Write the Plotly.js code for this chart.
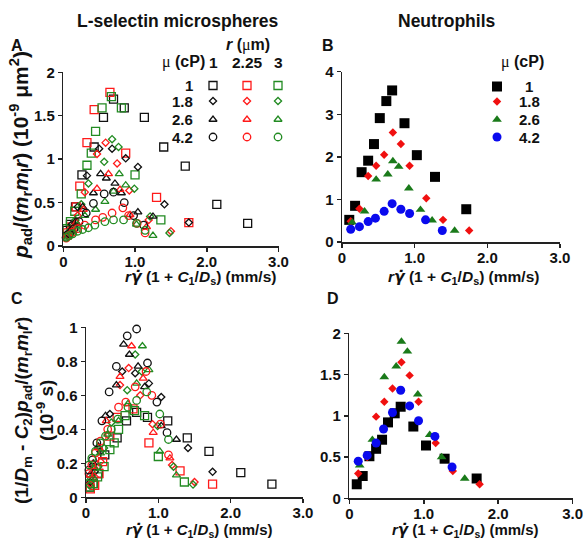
<!DOCTYPE html>
<html><head><meta charset="utf-8">
<script src="https://cdn.plot.ly/plotly-3.0.1.min.js"></script>
<style>html,body{margin:0;padding:0;background:#fff}#chart{width:583px;height:539px}</style>
</head><body><div id="chart"></div>
<script>
// ---------- tick labels ----------
const xTickVals = [0, 1, 2, 3];
const xTickText = ['0', '1.0', '2.0', '3.0'];
const yTickValsA = [0, 0.5, 1, 1.5, 2];
const yTickTextA = ['0', '0.5', '1', '1.5', '2'];
const yTickValsB = [0, 1, 2, 3, 4];
const yTickTextB = ['0', '1', '2', '3', '4'];
const yTickValsC = [0, 0.2, 0.4, 0.6, 0.8, 1];
const yTickTextC = ['0', '0.2', '0.4', '0.6', '0.8', '1'];
const yTickValsD = [0, 0.5, 1, 1.5, 2];
const yTickTextD = ['0', '0.5', '1', '1.5', '2'];

// ---------- categories ----------
const viscosities = ['1', '1.8', '2.6', '4.2'];   // mu (cP)
const radii = ['1', '2.25', '3'];                 // r (um)

// ---------- L-selectin microspheres (panel A: pA, panel C: pC) ----------
const x_mu1_r1 = [0.05, 0.10, 0.17, 0.26, 0.43, 0.56, 0.70, 0.85, 1.13, 1.40, 1.70, 2.14, 2.57];
const pA_mu1_r1 = [0.18, 0.25, 0.45, 0.82, 1.14, 1.48, 1.69, 1.59, 1.48, 1.14, 0.92, 0.48, 0.26];
const pC_mu1_r1 = [0.06, 0.08, 0.14, 0.25, 0.35, 0.45, 0.50, 0.47, 0.45, 0.35, 0.27, 0.145, 0.077];

const x_mu1_r225 = [0.06, 0.12, 0.18, 0.23, 0.33, 0.43, 0.65, 0.87, 1.30, 1.75];
const pA_mu1_r225 = [0.15, 0.22, 0.45, 0.69, 1.19, 1.57, 1.77, 1.07, 0.56, 0.27];
const pC_mu1_r225 = [0.05, 0.07, 0.14, 0.21, 0.36, 0.47, 0.52, 0.32, 0.155, 0.078];

const x_mu1_r3 = [0.05, 0.10, 0.16, 0.25, 0.33, 0.39, 0.45, 0.54, 0.67, 0.81, 1.00, 1.36];
const pA_mu1_r3 = [0.20, 0.28, 0.40, 0.60, 0.93, 1.07, 1.32, 1.59, 1.72, 1.59, 0.82, 0.30];
const pC_mu1_r3 = [0.06, 0.08, 0.12, 0.18, 0.28, 0.32, 0.40, 0.48, 0.51, 0.48, 0.24, 0.09];

const x_mu18_r1 = [0.06, 0.12, 0.20, 0.33, 0.50, 0.68, 0.87, 1.04, 1.41, 1.75];
const pA_mu18_r1 = [0.15, 0.25, 0.45, 0.81, 1.12, 1.12, 1.01, 0.91, 0.48, 0.27];
const pC_mu18_r1 = [0.09, 0.15, 0.27, 0.49, 0.74, 0.73, 0.67, 0.59, 0.29, 0.15];

const x_mu18_r225 = [0.06, 0.12, 0.20, 0.30, 0.47, 0.59, 0.75, 0.92, 1.19, 1.50];
const pA_mu18_r225 = [0.13, 0.20, 0.35, 0.62, 1.06, 1.19, 0.95, 0.64, 0.30, 0.17];
const pC_mu18_r225 = [0.08, 0.12, 0.21, 0.37, 0.66, 0.76, 0.60, 0.43, 0.19, 0.09];

const x_mu18_r3 = [0.05, 0.10, 0.17, 0.25, 0.35, 0.57, 0.68, 0.77, 0.99, 1.21, 1.48];
const pA_mu18_r3 = [0.12, 0.18, 0.30, 0.48, 0.72, 0.97, 1.23, 1.14, 0.66, 0.34, 0.15];
const pC_mu18_r3 = [0.07, 0.11, 0.18, 0.29, 0.44, 0.63, 0.84, 0.74, 0.42, 0.18, 0.075];

const x_mu26_r1 = [0.05, 0.10, 0.17, 0.27, 0.42, 0.52, 0.60, 0.72, 0.81, 1.04, 1.25];
const pA_mu26_r1 = [0.12, 0.18, 0.28, 0.45, 0.61, 0.83, 0.78, 0.72, 0.61, 0.39, 0.34];
const pC_mu26_r1 = [0.13, 0.20, 0.30, 0.48, 0.66, 0.90, 0.84, 0.77, 0.65, 0.42, 0.34];

const x_mu26_r225 = [0.05, 0.11, 0.18, 0.28, 0.47, 0.63, 0.79, 0.93, 1.16];
const pA_mu26_r225 = [0.12, 0.17, 0.27, 0.42, 0.66, 0.83, 0.65, 0.36, 0.22];
const pC_mu26_r225 = [0.13, 0.18, 0.29, 0.45, 0.71, 0.89, 0.70, 0.38, 0.23];

const x_mu26_r3 = [0.06, 0.12, 0.20, 0.30, 0.45, 0.58, 0.70, 0.78, 0.87, 1.02, 1.25];
const pA_mu26_r3 = [0.10, 0.16, 0.24, 0.35, 0.42, 0.51, 0.63, 0.83, 0.70, 0.25, 0.12];
const pC_mu26_r3 = [0.11, 0.17, 0.26, 0.37, 0.45, 0.55, 0.67, 0.89, 0.75, 0.27, 0.13];

const x_mu42_r1 = [0.04, 0.09, 0.15, 0.22, 0.32, 0.42, 0.57, 0.70, 0.85, 0.98, 1.12];
const pA_mu42_r1 = [0.10, 0.14, 0.20, 0.28, 0.38, 0.49, 0.60, 0.62, 0.50, 0.35, 0.24];
const pC_mu42_r1 = [0.16, 0.22, 0.32, 0.45, 0.62, 0.77, 0.95, 0.99, 0.79, 0.56, 0.38];

const x_mu42_r225 = [0.04, 0.08, 0.13, 0.20, 0.30, 0.45, 0.55, 0.68, 0.83, 0.91, 1.03, 1.14];
const pA_mu42_r225 = [0.09, 0.12, 0.16, 0.20, 0.24, 0.30, 0.33, 0.38, 0.44, 0.35, 0.26, 0.15];
const pC_mu42_r225 = [0.14, 0.19, 0.26, 0.33, 0.40, 0.53, 0.56, 0.65, 0.74, 0.60, 0.43, 0.25];

const x_mu42_r3 = [0.04, 0.08, 0.13, 0.20, 0.27, 0.35, 0.44, 0.58, 0.70, 0.84, 1.02, 1.14];
const pA_mu42_r3 = [0.10, 0.12, 0.14, 0.17, 0.19, 0.21, 0.24, 0.28, 0.30, 0.30, 0.26, 0.18];
const pC_mu42_r3 = [0.19, 0.23, 0.27, 0.32, 0.36, 0.40, 0.46, 0.53, 0.57, 0.62, 0.49, 0.34];

// ---------- Neutrophils (panel B: pB, panel D: pD) ----------
const xN_mu1 = [0.10, 0.18, 0.27, 0.36, 0.44, 0.52, 0.61, 0.69, 0.86, 1.03, 1.28, 1.71];
const pB_mu1 = [0.52, 0.85, 1.64, 1.91, 2.30, 2.91, 3.31, 3.56, 2.79, 2.04, 1.53, 0.77];
const pD_mu1 = [0.17, 0.27, 0.51, 0.60, 0.71, 0.92, 1.03, 1.11, 0.87, 0.64, 0.48, 0.24];

const xN_mu18 = [0.12, 0.24, 0.36, 0.47, 0.58, 0.70, 0.81, 0.93, 1.16, 1.39, 1.75];
const pB_mu18 = [0.49, 0.78, 1.55, 1.79, 2.05, 2.57, 2.30, 1.79, 1.03, 0.52, 0.27];
const pD_mu18 = [0.30, 0.50, 0.99, 1.17, 1.33, 1.65, 1.49, 1.17, 0.67, 0.33, 0.17];

const xN_mu26 = [0.14, 0.31, 0.47, 0.63, 0.70, 0.78, 0.92, 1.08, 1.24, 1.55];
const pB_mu26 = [0.46, 0.72, 1.47, 1.59, 1.90, 1.77, 1.26, 0.76, 0.51, 0.27];
const pD_mu26 = [0.40, 0.71, 1.47, 1.60, 1.90, 1.78, 1.26, 0.77, 0.50, 0.24];

const xN_mu42 = [0.12, 0.24, 0.36, 0.46, 0.58, 0.69, 0.81, 0.93, 1.15, 1.38];
const pB_mu42 = [0.30, 0.36, 0.48, 0.56, 0.72, 0.90, 0.77, 0.67, 0.52, 0.27];
const pD_mu42 = [0.45, 0.52, 0.67, 0.84, 1.04, 1.31, 1.12, 0.94, 0.75, 0.38];

// ---------- assemble ----------
const msData = [
  [[x_mu1_r1, pA_mu1_r1, pC_mu1_r1], [x_mu1_r225, pA_mu1_r225, pC_mu1_r225], [x_mu1_r3, pA_mu1_r3, pC_mu1_r3]],
  [[x_mu18_r1, pA_mu18_r1, pC_mu18_r1], [x_mu18_r225, pA_mu18_r225, pC_mu18_r225], [x_mu18_r3, pA_mu18_r3, pC_mu18_r3]],
  [[x_mu26_r1, pA_mu26_r1, pC_mu26_r1], [x_mu26_r225, pA_mu26_r225, pC_mu26_r225], [x_mu26_r3, pA_mu26_r3, pC_mu26_r3]],
  [[x_mu42_r1, pA_mu42_r1, pC_mu42_r1], [x_mu42_r225, pA_mu42_r225, pC_mu42_r225], [x_mu42_r3, pA_mu42_r3, pC_mu42_r3]]
];
const nData = [[xN_mu1, pB_mu1, pD_mu1], [xN_mu18, pB_mu18, pD_mu18], [xN_mu26, pB_mu26, pD_mu26], [xN_mu42, pB_mu42, pD_mu42]];

// styles
const FONT = 'Liberation Sans, Arial, Helvetica, sans-serif';
const rColors = ['#111111', '#ff1a1a', '#228b22'];
const openSymbols = ['square-open', 'diamond-open', 'triangle-up-open', 'circle-open'];
const openSizes = [8, 5.5, 7, 7.5];
const nColors = ['#000000', '#f01010', '#1a7a1a', '#0a0aee'];
const fillSymbols = ['square', 'diamond', 'triangle-up', 'circle'];
const fillSizes = [10, 6.5, 8.5, 9];

const W = 583, H = 539;
const P = (px, py) => ({x: px / W, y: 1 - py / H});

const traces = [];
function pt(x, y, xa, ya, symbol, color, size, open) {
  return {type: 'scatter', mode: 'markers', x: x, y: y, xaxis: xa, yaxis: ya, cliponaxis: false,
    showlegend: false, hoverinfo: 'skip',
    marker: {symbol: symbol, size: size, color: color,
      line: {color: color, width: open ? 1.3 : 0}}};
}
viscosities.forEach((mu, i) => {
  radii.forEach((r, j) => {
    const d = msData[i][j];
    traces.push(pt(d[0], d[1], 'x', 'y', openSymbols[i], rColors[j], openSizes[i], true));
    traces.push(pt(d[0], d[2], 'x3', 'y3', openSymbols[i], rColors[j], openSizes[i], true));
  });
});
viscosities.forEach((mu, i) => {
  const d = nData[i];
  traces.push(pt(d[0], d[1], 'x2', 'y2', fillSymbols[i], nColors[i], fillSizes[i], false));
  traces.push(pt(d[0], d[2], 'x4', 'y4', fillSymbols[i], nColors[i], fillSizes[i], false));
});

// legend keys (drawn on a hidden page-size overlay axis)
const legA = {colX: [213, 247, 278], rowY: [85.5, 101, 119.5, 137], labelRight: 195};
const legB = {markX: 497, labelX: 529, rowY: [86.5, 101.5, 119.5, 137]};
viscosities.forEach((mu, i) => {
  radii.forEach((r, j) => {
    traces.push(pt([legA.colX[j]], [legA.rowY[i]], 'x5', 'y5', openSymbols[i], rColors[j], openSizes[i], true));
  });
  traces.push(pt([legB.markX], [legB.rowY[i]], 'x5', 'y5', fillSymbols[i], nColors[i], fillSizes[i], false));
});

const tickFont = {family: FONT, size: 15, color: '#111'};
const bold = a => a.map(t => '<b>' + t + '</b>');

function xAx(dom, anchor) {
  return {domain: dom, anchor: anchor, range: [0, 3], tickmode: 'array', tickvals: xTickVals, ticktext: bold(xTickText),
    showline: true, linecolor: '#222', linewidth: 1.5, ticks: 'outside', ticklen: 4, tickwidth: 1.5, tickcolor: '#222',
    showgrid: false, zeroline: false, tickfont: tickFont, automargin: false, ticklabeloverflow: 'allow',
    ticklabelstandoff: -3};
}
function yAx(dom, anchor, range, vals, text) {
  return {domain: dom, anchor: anchor, range: range, tickmode: 'array', tickvals: vals, ticktext: bold(text),
    showline: true, linecolor: '#222', linewidth: 1.5, ticks: 'outside', ticklen: 4, tickwidth: 1.5, tickcolor: '#222',
    showgrid: false, zeroline: false, tickfont: tickFont, automargin: false, ticklabeloverflow: 'allow'};
}
const dx = (a, b) => [a / W, b / W];
const dy = (top, bottom) => [1 - bottom / H, 1 - top / H];

const gammaDot = '<span style="font-family:DejaVu Sans">\u03B3\u0307</span>';
const xTitle = '<b><i>r</i><i>' + gammaDot + '</i> (1 + <i>C</i><sub>1</sub>/<i>D</i><sub>s</sub>) (mm/s)</b>';
const yTitleA = '<b><i>p</i><sub>ad</sub>/(<i>m</i><sub>r</sub><i>m</i><sub>l</sub><i>r</i>) (10<sup>-9</sup> \u03BCm<sup>2</sup>)</b>';
const yTitleC = '<b>(1/<i>D</i><sub>m</sub> - <i>C</i><sub>2</sub>)<i>p</i><sub>ad</sub>/(<i>m</i><sub>r</sub><i>m</i><sub>l</sub><i>r</i>)<br>(10<sup>-9</sup> s)</b>';

function ann(px, py, text, opts) {
  const p = P(px, py);
  return Object.assign({xref: 'paper', yref: 'paper', x: p.x, y: p.y, text: text, showarrow: false,
    font: {family: FONT, size: 15, color: '#111'}, xanchor: 'center', yanchor: 'middle'}, opts || {});
}
const F = s => ({family: FONT, size: s, color: '#111'});
const muSpan = '<span style="font-family:Liberation Serif;font-weight:normal">\u03BC</span>';
const annotations = [
  ann(178, 21, '<b>L-selectin microspheres</b>', {font: F(17.5)}),
  ann(446, 21, '<b>Neutrophils</b>', {font: F(17.5)}),
  ann(17, 45, '<b>A</b>', {font: F(16)}), ann(328, 45, '<b>B</b>', {font: F(16)}),
  ann(17, 298, '<b>C</b>', {font: F(16)}), ann(333, 298, '<b>D</b>', {font: F(16)}),
  // axis titles
  ann(200, 277, xTitle, {font: F(15.5)}),
  ann(463, 277, xTitle, {font: F(15.5)}),
  ann(199, 530, xTitle, {font: F(15)}),
  ann(465, 530, xTitle, {font: F(15)}),
  ann(20, 155, yTitleA, {font: F(21), textangle: -90}),
  ann(34, 411, yTitleC, {font: F(19), textangle: -90}),
  // legend texts
  ann(248, 45, '<b><i>r</i> (' + muSpan + 'm)</b>', {font: F(16)}),
  ann(207, 62, '<b>' + muSpan + ' (cP)</b>', {xanchor: 'right', font: F(16)}),
  ann(522, 62, '<b>' + muSpan + ' (cP)</b>', {font: F(16)})
];
radii.forEach((r, j) => annotations.push(ann(legA.colX[j], 62, '<b>' + r + '</b>', {font: F(15.5)})));
viscosities.forEach((mu, i) => {
  annotations.push(ann(legA.labelRight, legA.rowY[i], '<b>' + mu + '</b>', {xanchor: 'right', font: F(15)}));
  annotations.push(ann(legB.labelX, legB.rowY[i], '<b>' + mu + '</b>', {font: F(15)}));
});

const layout = {
  width: W, height: H, margin: {l: 0, r: 0, t: 0, b: 0}, paper_bgcolor: '#fff', plot_bgcolor: 'rgba(0,0,0,0)',
  showlegend: false, font: {family: FONT, color: '#111'},
  xaxis: xAx(dx(63.3, 278.5), 'y'),
  yaxis: yAx(dy(72.3, 246), 'x', [0, 2], yTickValsA, yTickTextA),
  xaxis2: xAx(dx(342, 560), 'y2'),
  yaxis2: yAx(dy(71.7, 242), 'x2', [0, 4], yTickValsB, yTickTextB),
  xaxis3: xAx(dx(86, 303), 'y3'),
  yaxis3: yAx(dy(327.3, 497.3), 'x3', [0, 1], yTickValsC, yTickTextC),
  xaxis4: xAx(dx(349.3, 572.7), 'y4'),
  yaxis4: yAx(dy(333.3, 498.3), 'x4', [0, 2], yTickValsD, yTickTextD),
  xaxis5: {domain: [0, 1], range: [0, W], visible: false, anchor: 'y5'},
  yaxis5: {domain: [0, 1], range: [H, 0], visible: false, anchor: 'x5'},
  annotations: annotations
};
Plotly.newPlot('chart', traces, layout, {staticPlot: true, displayModeBar: false});
</script></body></html>
